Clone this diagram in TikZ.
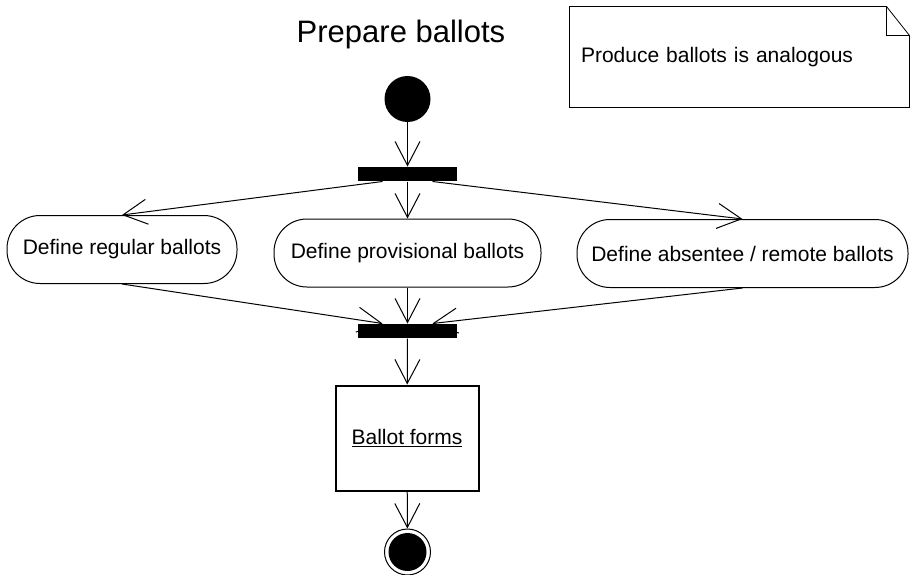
\documentclass[tikz,border=0pt]{standalone}
\usepackage{fontspec}
\setmainfont{Liberation Sans}
\usetikzlibrary{arrows.meta,positioning}

\begin{document}
\begin{tikzpicture}[
                            x=1pt,y=-1pt,
                            ->,
                            >={Straight Barb[length=24pt,width=25pt]},
                            line width=1pt,
                            font=\fontsize{21}{25}\selectfont
                        ]
                        \tikzstyle{activity}=[draw,rounded corners=33pt,minimum height=68pt,inner sep=0pt]
                        \tikzstyle{bar}=[fill=black,minimum width=99pt,minimum height=14pt,inner sep=0pt]
                        \useasboundingbox (0,0) rectangle (910,575);

                        \node[anchor=base] (title) at (401,43) {\fontsize{31}{36}\selectfont Prepare ballots};

                        \node[circle,fill=black,minimum size=46pt,inner sep=0pt] (start) at (407.5,99) {};
                        \node[bar] (fork) at (407.5,174) {};
                        \node[activity,minimum width=230pt] (regular) at (122,249.5) {Define regular ballots};
                        \node[activity,minimum width=267pt] (provisional) at (407.5,253) {Define provisional ballots};
                        \node[activity,minimum width=331pt] (absentee) at (742.5,253.5) {Define absentee / remote ballots};
                        \node[bar] (join) at (407.5,331) {};
                        \node[draw,line width=2pt,minimum width=143pt,minimum height=105pt,inner sep=0pt] (forms) at (407,438) {\underline{Ballot forms}};
                        \node[circle,draw,minimum size=46pt,inner sep=0pt] (final) at (407.5,552) {};
                        \fill (final) circle (19pt);

                        % note
                        \node[minimum width=339pt,minimum height=97pt,text width=317pt,align=left,inner sep=0pt] (note) at (739.5,57) {Produce ballots is analogous};
                        \draw[-,line width=0.8pt] ([yshift=1.5pt]note.north west) -- ([xshift=-23pt,yshift=1.5pt]note.north east) -- ([yshift=-27.5pt]note.north east)
                            -- ([yshift=-1.5pt]note.south east) -- ([yshift=-1.5pt]note.south west) -- cycle;
                        \draw[-,line width=0.8pt] ([xshift=-23pt,yshift=1.5pt]note.north east) |- ([yshift=-27.5pt]note.north east);

                        \path
                        (start)                       edge (fork)
                        ([xshift=-25pt]fork.south)    edge (regular.north)
                        (fork.south)                  edge (provisional.north)
                        ([xshift=25pt]fork.south)     edge (absentee.north)
                        (regular.south)               edge ([xshift=-25pt]join.north)
                        (provisional.south)           edge (join.north)
                        (absentee.south)              edge ([xshift=25pt]join.north)
                        (join)                        edge (forms)
                        (forms)                       edge (final)
                        ;
                    \end{tikzpicture}
\end{document}
